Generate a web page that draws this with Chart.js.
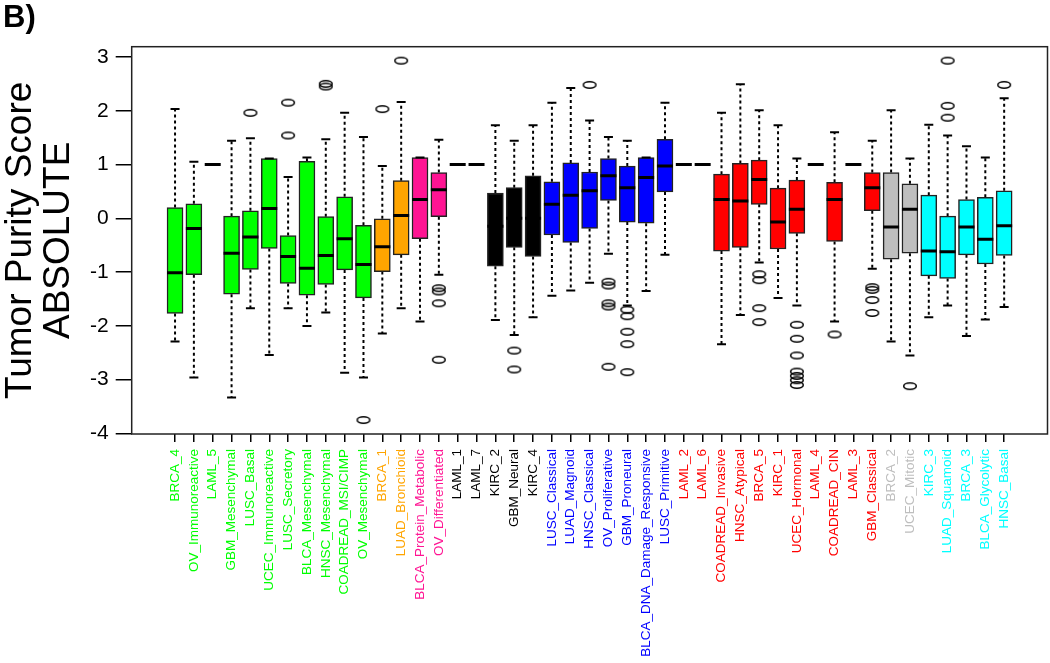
<!DOCTYPE html>
<html>
<head>
<meta charset="utf-8">
<script src="https://cdn.jsdelivr.net/npm/chart.js@4/dist/chart.umd.min.js"></script>
<style>
  html, body { margin: 0; padding: 0; background: #fff; }
  #wrap { width: 1050px; height: 663px; position: relative; }
</style>
</head>
<body>
<div id="wrap"><canvas id="chart"></canvas></div>
<script>
// Subtypes on the x axis, in drawing order
const labels = [
    'BRCA_4', 'OV_Immunoreactive', 'LAML_5', 'GBM_Mesenchymal', 'LUSC_Basal',
    'UCEC_Immunoreactive', 'LUSC_Secretory', 'BLCA_Mesenchymal', 'HNSC_Mesenchymal',
    'COADREAD_MSI/CIMP', 'OV_Mesenchymal', 'BRCA_1', 'LUAD_Bronchioid',
    'BLCA_Protein_Metabolic', 'OV_Differentiated', 'LAML_1', 'LAML_7', 'KIRC_2',
    'GBM_Neural', 'KIRC_4', 'LUSC_Classical', 'LUAD_Magnoid', 'HNSC_Classical',
    'OV_Proliferative', 'GBM_Proneural', 'BLCA_DNA_Damage_Responsive', 'LUSC_Primitive',
    'LAML_2', 'LAML_6', 'COADREAD_Invasive', 'HNSC_Atypical', 'BRCA_5', 'KIRC_1',
    'UCEC_Hormonal', 'LAML_4', 'COADREAD_CIN', 'LAML_3', 'GBM_Classical', 'BRCA_2',
    'UCEC_Mitotic', 'KIRC_3', 'LUAD_Squamoid', 'BRCA_3', 'BLCA_Glycolytic', 'HNSC_Basal'
];

// Cluster of each subtype
const cluster = [
    1, 1, 1, 1, 1, 1, 1, 1, 1, 1, 1,
    2, 2,
    3, 3,
    4, 4, 4, 4, 4,
    5, 5, 5, 5, 5, 5, 5,
    6, 6, 6, 6, 6, 6, 6, 6, 6, 6, 6,
    7, 7,
    8, 8, 8, 8, 8
];

// Box plot statistics
const whiskerLow = [
    -2.29, -2.96, 1, -3.33, -1.67, -2.54, -1.67, -2.00, -1.75, -2.87, -2.96,
    -2.14, -1.67, -1.92, -1.05, 1, 1, -1.89, -2.17, -1.84,
    -1.44, -1.34, -1.20, -0.66, -1.62, -1.35, -0.68,
    1, 1, -2.34, -1.80, -0.82, -1.48, -1.62, 1, -1.92, 1, -0.94,
    -2.29, -2.55, -1.84, -1.62, -2.19, -1.88, -1.65
];
const q1 = [
    -1.77, -1.05, 1, -1.41, -0.95, -0.56, -1.21, -1.43, -1.23, -0.96, -1.48,
    -0.99, -0.68, -0.38, 0.03, 1, 1, -0.89, -0.54, -0.71,
    -0.31, -0.45, -0.19, 0.33, -0.07, -0.09, 0.49,
    1, 1, -0.61, -0.54, 0.26, -0.57, -0.28, 1, -0.43, 1, 0.14,
    -0.76, -0.65, -1.07, -1.12, -0.68, -0.85, -0.69
];
const median = [
    -1.01, -0.19, 1, -0.65, -0.35, 0.18, -0.71, -0.93, -0.69, -0.38, -0.86,
    -0.53, 0.05, 0.35, 0.53, 1, 1, -0.15, 0.00, 0.00,
    0.26, 0.43, 0.51, 0.79, 0.57, 0.76, 0.97,
    1, 1, 0.35, 0.32, 0.72, -0.07, 0.17, 1, 0.35, 1, 0.57,
    -0.16, 0.17, -0.61, -0.62, -0.16, -0.39, -0.14
];
const q3 = [
    0.20, 0.27, 1, 0.04, 0.14, 1.11, -0.32, 1.06, 0.03, 0.40, -0.13,
    -0.01, 0.70, 1.13, 0.85, 1, 1, 0.47, 0.57, 0.79,
    0.68, 1.03, 0.86, 1.11, 0.97, 1.13, 1.47,
    1, 1, 0.82, 1.02, 1.08, 0.56, 0.71, 1, 0.67, 1, 0.85,
    0.85, 0.64, 0.43, 0.04, 0.35, 0.39, 0.51
];
const whiskerHigh = [
    2.03, 1.05, 1, 1.44, 1.49, 1.11, 0.77, 1.13, 1.47, 1.96, 1.51,
    0.97, 2.16, 1.13, 1.46, 1, 1, 1.73, 1.44, 1.73,
    2.15, 2.42, 1.82, 1.51, 1.44, 1.13, 2.15,
    1, 1, 1.96, 2.49, 2.01, 1.73, 1.11, 1, 1.60, 1, 1.44,
    2.01, 1.11, 1.74, 1.54, 1.34, 1.13, 2.23
];
const outliers = [
    [], [], [], [], [1.96], [], [2.15, 1.54], [], [2.50, 2.45], [], [-3.75],
    [2.03], [2.93], [], [-1.30, -1.36, -1.58, -2.63], [], [], [], [-2.46, -2.81], [],
    [], [], [2.48], [-1.18, -1.25, -1.58, -1.64, -2.76], [-1.70, -1.82, -2.11, -2.34, -2.86], [], [],
    [], [], [], [], [-1.04, -1.15, -1.67, -1.93], [],
    [-1.98, -2.24, -2.55, -2.85, -2.93, -3.01, -3.10], [], [-2.16], [], [-1.28, -1.33, -1.52, -1.76],
    [], [-3.12], [], [2.93, 2.09, 1.87], [], [], [2.48]
];

const yTicks = [-4, -3, -2, -1, 0, 1, 2, 3];

// Colours per cluster
const palette = {
    1: '#00FF00', 2: '#FFA500', 3: '#FF1493', 4: '#000000',
    5: '#0000FF', 6: '#FF0000', 7: '#BEBEBE', 8: '#00FFFF'
};

// small open ellipse used as the outlier marker
function makeOutlierIcon() {
    const c = document.createElement('canvas');
    c.width = 16;
    c.height = 10;
    const g = c.getContext('2d');
    g.strokeStyle = '#000';
    g.lineWidth = 1.5;
    g.beginPath();
    g.ellipse(8, 5, 6.3, 3.2, 0, 0, Math.PI * 2);
    g.stroke();
    return c;
}

const boxData = [];
const medianData = [];
const capData = [];
const whiskerData = [];
const outlierData = [];
labels.forEach((name, i) => {
    const x = i + 1;
    boxData.push({ x: x, y: [q1[i], q3[i]] });
    medianData.push({ x: x, y: median[i] });
    capData.push({ x: x, y: whiskerHigh[i] }, { x: x, y: whiskerLow[i] });
    // null breaks the line between whisker segments
    whiskerData.push(
        { x: x, y: q3[i] }, { x: x, y: whiskerHigh[i] }, { x: x, y: null },
        { x: x, y: q1[i] }, { x: x, y: whiskerLow[i] }, { x: x, y: null }
    );
    outliers[i].forEach(v => outlierData.push({ x: x, y: v }));
});

// box around the plot area + panel letter
const framePlugin = {
    id: 'frame',
    afterDraw(chart) {
        const { ctx, chartArea: a } = chart;
        ctx.save();
        ctx.strokeStyle = '#222';
        ctx.lineWidth = 1.5;
        ctx.strokeRect(a.left, a.top, a.right - a.left, a.bottom - a.top);
        ctx.fillStyle = '#000';
        ctx.font = 'bold 31px "Liberation Sans", Arial, sans-serif';
        ctx.fillText('B)', 3, 27);
        ctx.restore();
    }
};

Chart.defaults.font.family = '"Liberation Sans", Arial, sans-serif';
Chart.defaults.color = '#000';

new Chart(document.getElementById('chart'), {
    type: 'bar',
    data: {
        datasets: [
            {
                type: 'scatter',
                label: 'outliers',
                data: outlierData,
                pointStyle: makeOutlierIcon(),
                pointRadius: 6,
                order: 1
            },
            {
                type: 'scatter',
                label: 'caps',
                data: capData,
                pointStyle: 'line',
                pointRadius: 4.5,
                pointBorderWidth: 2,
                pointBorderColor: '#000',
                borderColor: '#000',
                order: 2
            },
            {
                type: 'scatter',
                label: 'median',
                data: medianData,
                pointStyle: 'line',
                pointRadius: 8,
                pointBorderWidth: 3,
                pointBorderColor: '#000',
                borderColor: '#000',
                order: 3
            },
            {
                type: 'bar',
                label: 'box',
                data: boxData,
                backgroundColor: cluster.map(c => palette[c]),
                borderColor: '#222',
                borderWidth: 1.5,
                borderSkipped: false,
                barThickness: 16,
                order: 4
            },
            {
                type: 'line',
                label: 'whiskers',
                data: whiskerData,
                borderColor: '#000',
                borderWidth: 2,
                borderDash: [3, 3],
                pointRadius: 0,
                spanGaps: false,
                order: 5
            }
        ]
    },
    options: {
        responsive: true,
        maintainAspectRatio: false,
        animation: false,
        events: [],
        layout: {
            autoPadding: false,
            padding: { top: 46.7, right: 2.5, left: 0, bottom: 0 }
        },
        plugins: {
            legend: { display: false },
            tooltip: { enabled: false }
        },
        scales: {
            x: {
                type: 'linear',
                min: -1.3,
                max: 47.3,
                offset: false,
                afterBuildTicks: s => { s.ticks = labels.map((_, i) => ({ value: i + 1 })); },
                afterFit: s => { s.height = 229; s.paddingLeft = 0; s.paddingRight = 0; },
                ticks: {
                    autoSkip: false,
                    minRotation: 90,
                    maxRotation: 90,
                    padding: 7,
                    font: { size: 13.5 },
                    color: ctx => palette[cluster[ctx.index]],
                    callback: (v, i) => labels[i]
                },
                grid: { offset: false, drawOnChartArea: false, tickLength: 8, color: '#000', lineWidth: 1.5 },
                border: { display: false }
            },
            y: {
                min: -4.01,
                max: 3.19,
                afterBuildTicks: s => { s.ticks = yTicks.map(v => ({ value: v })); },
                afterFit: s => { s.width = 131.7; },
                ticks: {
                    padding: 7,
                    font: { size: 21 },
                    color: '#000',
                    callback: v => String(v)
                },
                grid: { drawOnChartArea: false, tickLength: 16, color: '#000', lineWidth: 1.5 },
                border: { display: false },
                title: {
                    display: true,
                    text: ['Tumor Purity Score', 'ABSOLUTE'],
                    font: { size: 37, lineHeight: 1.03 },
                    color: '#000',
                    padding: { top: 2, bottom: 0 }
                }
            }
        }
    },
    plugins: [framePlugin]
});
</script>
</body>
</html>
